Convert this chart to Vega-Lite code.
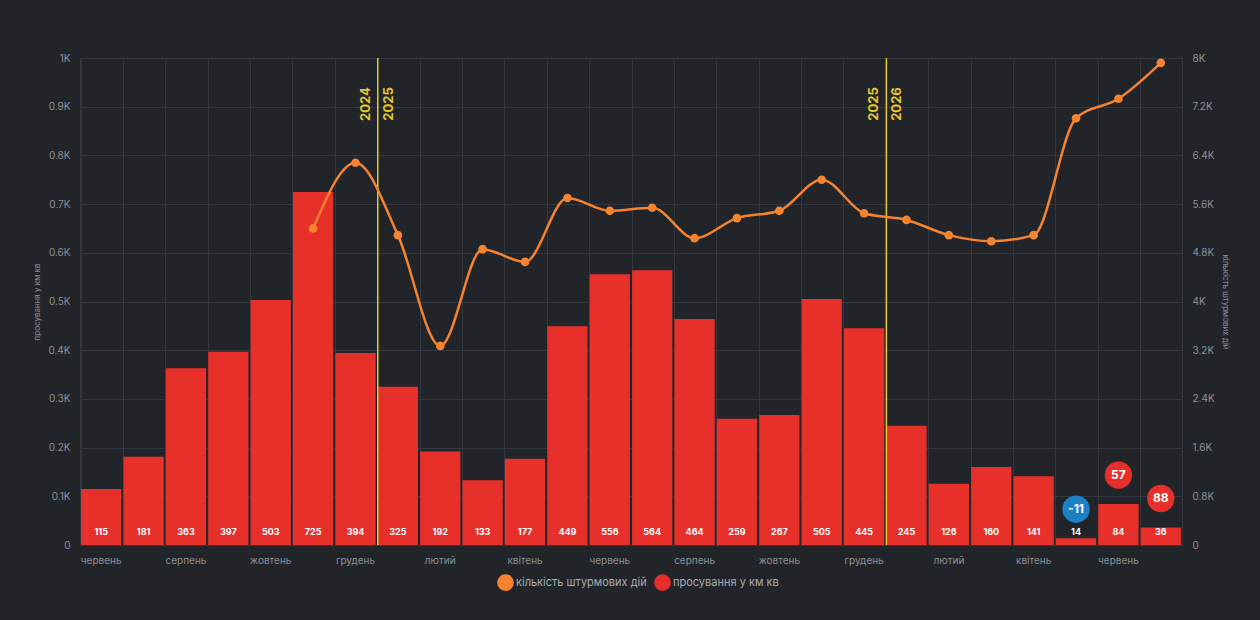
{
  "$schema": "https://vega.github.io/schema/vega-lite/v6.json",
  "width": 1102,
  "height": 487,
  "autosize": {"type": "none"},
  "padding": {"left": 80, "top": 58, "right": 78, "bottom": 75},
  "background": "#212429",
  "config": {
    "font": "Inter",
    "view": {"stroke": "#33373f", "strokeWidth": 1},
    "axis": {
      "gridColor": "#33373f",
      "gridWidth": 1,
      "domain": false,
      "ticks": false,
      "labelColor": "#8e9198",
      "labelFontSize": 10,
      "titleColor": "#8e9198",
      "titleFontSize": 8,
      "titleFontWeight": "normal"
    },
    "legend": {"labelColor": "#a9acb1", "labelFontSize": 11}
  },
  "datasets": {
    "months": [
      {"m": "00 червень", "adv": 115, "att": null, "chg": null},
      {"m": "01 липень", "adv": 181, "att": null, "chg": null},
      {"m": "02 серпень", "adv": 363, "att": null, "chg": null},
      {"m": "03 вересень", "adv": 397, "att": null, "chg": null},
      {"m": "04 жовтень", "adv": 503, "att": null, "chg": null},
      {"m": "05 листопад", "adv": 725, "att": 5200, "chg": null},
      {"m": "06 грудень", "adv": 394, "att": 6280, "chg": null},
      {"m": "07 січень", "adv": 325, "att": 5090, "chg": null},
      {"m": "08 лютий", "adv": 192, "att": 3270, "chg": null},
      {"m": "09 березень", "adv": 133, "att": 4860, "chg": null},
      {"m": "10 квітень", "adv": 177, "att": 4650, "chg": null},
      {"m": "11 травень", "adv": 449, "att": 5700, "chg": null},
      {"m": "12 червень", "adv": 556, "att": 5490, "chg": null},
      {"m": "13 липень", "adv": 564, "att": 5540, "chg": null},
      {"m": "14 серпень", "adv": 464, "att": 5040, "chg": null},
      {"m": "15 вересень", "adv": 259, "att": 5370, "chg": null},
      {"m": "16 жовтень", "adv": 267, "att": 5490, "chg": null},
      {"m": "17 листопад", "adv": 505, "att": 6000, "chg": null},
      {"m": "18 грудень", "adv": 445, "att": 5450, "chg": null},
      {"m": "19 січень", "adv": 245, "att": 5340, "chg": null},
      {"m": "20 лютий", "adv": 126, "att": 5090, "chg": null},
      {"m": "21 березень", "adv": 160, "att": 4990, "chg": null},
      {"m": "22 квітень", "adv": 141, "att": 5090, "chg": null},
      {"m": "23 травень", "adv": 14, "att": 7010, "chg": -11},
      {"m": "24 червень", "adv": 84, "att": 7330, "chg": 57},
      {"m": "25 липень", "adv": 36, "att": 7920, "chg": 88}
    ],
    "years": [
      {"m": "07 січень", "before": "2024", "after": "2025"},
      {"m": "19 січень", "before": "2025", "after": "2026"}
    ]
  },
  "data": {"name": "months"},
  "encoding": {
    "x": {
      "field": "m",
      "type": "ordinal",
      "sort": null,
      "scale": {"paddingInner": 0.05, "paddingOuter": 0.025},
      "axis": {
        "title": null,
        "grid": true,
        "bandPosition": 0,
        "labelAngle": 0,
        "labelAlign": "center",
        "labelPadding": 10,
        "labelExpr": "toNumber(slice(datum.value, 0, 2)) % 2 == 0 ? slice(datum.value, 3) : ''"
      }
    }
  },
  "layer": [
    {
      "layer": [
        {
          "mark": {"type": "bar", "color": "#e8302a"},
          "encoding": {
            "y": {
              "field": "adv",
              "type": "quantitative",
              "scale": {"domain": [0, 1000]},
              "axis": {
                "title": "просування у км кв",
                "grid": true,
                "values": [0, 100, 200, 300, 400, 500, 600, 700, 800, 900, 1000],
                "labelPadding": 10,
                "titlePadding": 6,
                "labelExpr": "datum.value == 0 ? '0' : format(datum.value / 1000, '.1~f') + 'K'"
              }
            },
            "color": {
              "datum": "просування у км кв",
              "type": "nominal",
              "scale": {
                "domain": ["кількість штурмових дій", "просування у км кв"],
                "range": ["#f5832f", "#e8302a"]
              },
              "legend": {
                "title": null,
                "orient": "none",
                "legendX": 416,
                "legendY": 515,
                "direction": "horizontal",
                "symbolType": "circle",
                "symbolSize": 280,
                "labelOffset": 1,
                "columnPadding": 6
              }
            }
          }
        },
        {
          "mark": {"type": "text", "color": "#ffffff", "fontSize": 9, "fontWeight": "bold", "dy": -13},
          "encoding": {
            "y": {"datum": 0, "type": "quantitative"},
            "text": {"field": "adv", "type": "quantitative"}
          }
        },
        {
          "transform": [{"filter": "datum.chg != null"}],
          "mark": {"type": "circle", "size": 750, "opacity": 1, "yOffset": -29},
          "encoding": {
            "y": {"field": "adv", "type": "quantitative"},
            "color": {"condition": {"test": "datum.chg < 0", "value": "#1b80c4"}, "value": "#e8302a"}
          }
        },
        {
          "transform": [{"filter": "datum.chg != null"}],
          "mark": {"type": "text", "color": "#ffffff", "fontSize": 12, "fontWeight": "bold", "yOffset": -29},
          "encoding": {
            "y": {"field": "adv", "type": "quantitative"},
            "text": {"field": "chg", "type": "nominal"}
          }
        },
        {
          "data": {"name": "years"},
          "mark": {"type": "rule", "color": "#e6c72c", "strokeWidth": 1.5},
          "encoding": {
            "x": {"field": "m", "type": "ordinal", "sort": null, "bandPosition": 0}
          }
        },
        {
          "data": {"name": "years"},
          "mark": {"type": "text", "color": "#e6c72c", "fontSize": 13, "fontWeight": "bold", "angle": 270, "align": "right", "baseline": "bottom", "dy": -5},
          "encoding": {
            "x": {"field": "m", "type": "ordinal", "sort": null, "bandPosition": 0},
            "y": {"datum": 940, "type": "quantitative"},
            "text": {"field": "before"}
          }
        },
        {
          "data": {"name": "years"},
          "mark": {"type": "text", "color": "#e6c72c", "fontSize": 13, "fontWeight": "bold", "angle": 270, "align": "right", "baseline": "top", "dy": 5},
          "encoding": {
            "x": {"field": "m", "type": "ordinal", "sort": null, "bandPosition": 0},
            "y": {"datum": 940, "type": "quantitative"},
            "text": {"field": "after"}
          }
        }
      ]
    },
    {
      "transform": [{"filter": "datum.att != null"}],
      "layer": [
        {
          "mark": {"type": "line", "color": "#f5832f", "strokeWidth": 2.5, "interpolate": "monotone"},
          "encoding": {
            "y": {
              "field": "att",
              "type": "quantitative",
              "scale": {"domain": [0, 8000]},
              "axis": {
                "orient": "right",
                "title": "кількість штурмових дій",
                "titleAngle": 90,
                "grid": false,
                "values": [0, 800, 1600, 2400, 3200, 4000, 4800, 5600, 6400, 7200, 8000],
                "labelPadding": 10,
                "titlePadding": 6,
                "labelExpr": "datum.value == 0 ? '0' : format(datum.value / 1000, '.1~f') + 'K'"
              }
            }
          }
        },
        {
          "mark": {"type": "circle", "size": 75, "opacity": 1},
          "encoding": {
            "y": {"field": "att", "type": "quantitative"},
            "color": {"datum": "кількість штурмових дій", "type": "nominal"}
          }
        }
      ]
    }
  ],
  "resolve": {"scale": {"y": "independent"}}
}
